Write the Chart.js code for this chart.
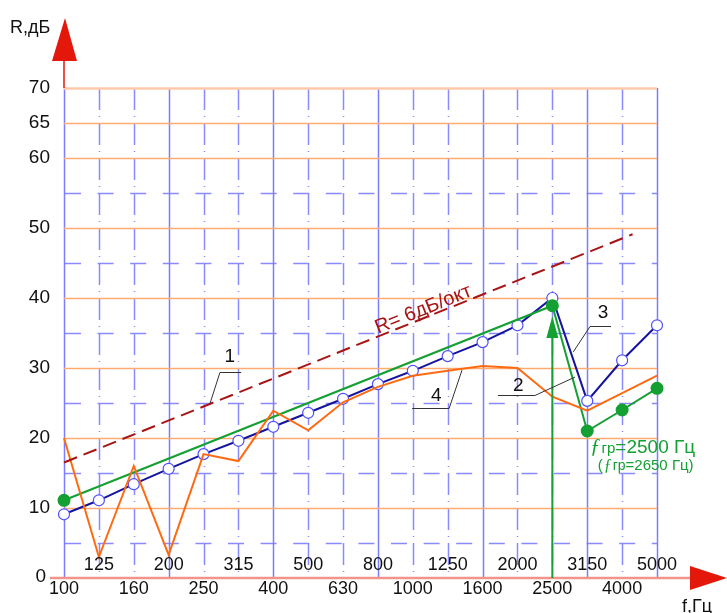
<!DOCTYPE html>
<html>
<head>
<meta charset="utf-8">
<script src="https://cdn.jsdelivr.net/npm/chart.js@4/dist/chart.umd.min.js"></script>
<style>
  html, body { margin: 0; padding: 0; background: #fff; }
</style>
</head>
<body>
<canvas id="chart" width="727" height="613"></canvas>
<script>
// частоты третьоктавных полос, Гц
const freqs = ['100','125','160','200','250','315','400','500','630','800','1000','1250','1600','2000','2500','3150','4000','5000'];
// кривая 3 (синяя, расчёт)
const curve3 = [9.1, 11.1, 13.4, 15.6, 17.7, 19.6, 21.6, 23.6, 25.6, 27.7, 29.6, 31.7, 33.7, 36.1, 40.0, 25.3, 31.1, 36.1];
// кривая 4 (оранжевая, измерение)
const curve4 = [20.0, 3.0, 16.0, 3.3, 17.7, 16.7, 23.9, 21.1, 25.1, 27.3, 28.9, 29.6, 30.3, 30.0, 25.9, 23.9, 26.4, 28.9];
// кривая 2 (зелёная) - только узловые точки
const curve2Freqs = ['100','2500','3150','4000','5000'];
const curve2 = [11.1, 38.9, 21.0, 24.0, 27.1];
// кривая 1 - наклон 6 дБ/окт (пунктир)
const curve1Pos = [0, 16.3];
const curve1 = [16.5, 49.1];
// ось R
const yLabels = [0, 10, 20, 30, 40, 50, 60, 65, 70];
const yMinor = [5, 15, 25, 35, 45, 55];
const octaves = ['100','200','400','800','1600','3150','5000'];
const fgr = '2500'; // граничная частота

const ix = f => freqs.indexOf(f);

const gridPlugin = {
  id: 'grid',
  beforeDatasetsDraw(chart) {
    const { ctx, scales: { x, y } } = chart;
    const x0 = x.getPixelForValue(0), x1 = x.getPixelForValue(freqs.length - 1);
    const y0 = y.getPixelForValue(0), y1 = y.getPixelForValue(70);
    ctx.save();
    // горизонтальные пунктирные
    ctx.strokeStyle = '#8a8aff';
    ctx.lineWidth = 1.5;
    ctx.setLineDash([16, 16.6]);
    ctx.lineDashOffset = -1;
    yMinor.forEach(v => {
      const py = Math.round(y.getPixelForValue(v)) + 0.5;
      ctx.beginPath(); ctx.moveTo(x0, py); ctx.lineTo(x1, py); ctx.stroke();
    });
    // вертикальные
    freqs.forEach((f, i) => {
      const px = Math.round(x.getPixelForValue(i)) + 0.5;
      if (octaves.includes(f)) {
        ctx.setLineDash([]);
        ctx.strokeStyle = '#7c7cff';
      } else {
        ctx.setLineDash([22, 6, 1, 6]);
        ctx.lineDashOffset = 0;
        ctx.strokeStyle = '#8a8aff';
      }
      ctx.beginPath(); ctx.moveTo(px, y1); ctx.lineTo(px, y0); ctx.stroke();
    });
    // горизонтальные сплошные
    ctx.setLineDash([]);
    yLabels.forEach(v => {
      if (v === 0) return;
      const py = Math.round(y.getPixelForValue(v)) + 0.5;
      ctx.strokeStyle = v === 70 ? '#ffc8a8' : '#ffab70';
      ctx.lineWidth = v === 70 ? 2.5 : 1.3;
      ctx.beginPath(); ctx.moveTo(x0, py); ctx.lineTo(x1, py); ctx.stroke();
    });
    ctx.restore();
  }
};

const decorPlugin = {
  id: 'decor',
  afterDraw(chart) {
    const { ctx, scales: { x, y } } = chart;
    const X = v => x.getPixelForValue(v), Y = v => y.getPixelForValue(v);
    const y0 = Y(0), xl = X(0);
    ctx.save();

    // ось f
    ctx.strokeStyle = '#f2948a';
    ctx.lineWidth = 2.5;
    ctx.beginPath(); ctx.moveTo(50, y0); ctx.lineTo(692, y0); ctx.stroke();
    ctx.fillStyle = '#e4180a';
    ctx.beginPath(); ctx.moveTo(690, y0 - 12); ctx.lineTo(727, y0); ctx.lineTo(690, y0 + 12); ctx.closePath(); ctx.fill();
    // ось R
    ctx.strokeStyle = '#e4180a';
    ctx.lineWidth = 1.5;
    ctx.beginPath(); ctx.moveTo(xl, Y(70)); ctx.lineTo(xl, 58); ctx.stroke();
    ctx.beginPath(); ctx.moveTo(xl - 12, 61); ctx.lineTo(xl + 1, 18); ctx.lineTo(xl + 13, 61); ctx.closePath(); ctx.fill();

    // подписи осей
    ctx.fillStyle = '#111';
    ctx.font = '18px "Liberation Sans", Arial, sans-serif';
    ctx.textAlign = 'left'; ctx.textBaseline = 'alphabetic';
    ctx.fillText('R,дБ', 10, 33);
    ctx.fillText('f,Гц', 682, 612);

    // метки R
    ctx.font = '19px "Liberation Sans", Arial, sans-serif';
    ctx.textAlign = 'right'; ctx.textBaseline = 'middle';
    yLabels.forEach(v => {
      ctx.fillText(String(v), v === 0 ? 46 : 50, Y(v) + (v === 0 ? -1 : 0));
    });
    // метки f в два ряда
    ctx.font = '18px "Liberation Sans", Arial, sans-serif';
    ctx.textAlign = 'center';
    freqs.forEach((f, i) => {
      ctx.fillText(f, X(i), i % 2 === 0 ? y0 + 11 : y0 - 13);
    });

    // граничная частота - зелёная стрелка
    const xg = X(ix(fgr));
    ctx.strokeStyle = '#14a032'; ctx.fillStyle = '#14a032';
    ctx.lineWidth = 2;
    ctx.beginPath(); ctx.moveTo(xg, y0); ctx.lineTo(xg, Y(35)); ctx.stroke();
    ctx.beginPath(); ctx.moveTo(xg - 6, Y(34.3)); ctx.lineTo(xg, Y(37.4)); ctx.lineTo(xg + 6, Y(34.3)); ctx.closePath(); ctx.fill();

    // подпись fгр
    ctx.textAlign = 'left'; ctx.textBaseline = 'alphabetic';
    let px = X(15.08), py = Y(17.8);
    ctx.font = 'italic 21px "Liberation Serif", serif';
    ctx.fillText('ƒ', px, py); px += ctx.measureText('ƒ').width + 1;
    ctx.font = '15px "Liberation Sans", Arial, sans-serif';
    ctx.fillText('гр', px, py); px += ctx.measureText('гр').width;
    ctx.font = '19px "Liberation Sans", Arial, sans-serif';
    ctx.fillText('=2500 Гц', px, py);
    px = X(15.3); py = Y(15.4);
    ctx.font = '15px "Liberation Sans", Arial, sans-serif';
    ctx.fillText('(', px, py); px += ctx.measureText('(').width + 1;
    ctx.font = 'italic 16px "Liberation Serif", serif';
    ctx.fillText('ƒ', px, py); px += ctx.measureText('ƒ').width + 1;
    ctx.font = '14px "Liberation Sans", Arial, sans-serif';
    ctx.fillText('гр', px, py); px += ctx.measureText('гр').width;
    ctx.font = '15px "Liberation Sans", Arial, sans-serif';
    ctx.fillText('=2650 Гц)', px, py);

    // надпись наклона
    const ang = Math.atan2(Y(curve1[1]) - Y(curve1[0]), X(curve1Pos[1]) - X(curve1Pos[0]));
    ctx.save();
    ctx.translate(X(9.0), Y(34.9));
    ctx.rotate(ang);
    ctx.fillStyle = '#a81414';
    ctx.font = '20px "Liberation Sans", Arial, sans-serif';
    ctx.fillText('R= 6дБ/окт', 0, 0);
    ctx.restore();

    // выноски с номерами кривых
    const leaders = [
      { n: '1', t: [4.75, 31.6], h: [4.47, 5.08, 29.4], d: [4.19, 25.0] },
      { n: '4', t: [10.67, 26.0], h: [9.98, 11.04, 24.3], d: [11.41, 29.7] },
      { n: '2', t: [13.02, 27.4], h: [12.44, 13.5, 26.1], d: [14.65, 28.7] },
      { n: '3', t: [15.45, 37.9], h: [15.08, 15.68, 36.0], d: [14.6, 32.3] }
    ];
    ctx.strokeStyle = '#333'; ctx.lineWidth = 1;
    ctx.fillStyle = '#111';
    ctx.font = '19px "Liberation Sans", Arial, sans-serif';
    ctx.textAlign = 'center'; ctx.textBaseline = 'middle';
    leaders.forEach(l => {
      const hy = Math.round(Y(l.h[2])) + 0.5;
      const start = l.n === '3' || l.n === '1' ? l.h[0] : l.h[1];
      ctx.beginPath();
      ctx.moveTo(X(l.h[0]), hy); ctx.lineTo(X(l.h[1]), hy);
      ctx.moveTo(X(start), hy); ctx.lineTo(X(l.d[0]), Y(l.d[1]));
      ctx.stroke();
      ctx.fillText(l.n, X(l.t[0]), Y(l.t[1]));
    });
    ctx.restore();
  }
};

new Chart(document.getElementById('chart'), {
  type: 'line',
  data: {
    datasets: [
      {
        label: '1',
        data: curve1.map((v, i) => ({ x: curve1Pos[i], y: v })),
        borderColor: '#a81414',
        borderWidth: 2,
        borderDash: [14, 7],
        pointRadius: 0
      },
      {
        label: '4',
        data: curve4.map((v, i) => ({ x: i, y: v })),
        borderColor: '#ff6a10',
        borderWidth: 2,
        pointRadius: 0
      },
      {
        label: '2',
        data: curve2.map((v, i) => ({ x: ix(curve2Freqs[i]), y: v })),
        borderColor: '#14a032',
        borderWidth: 2,
        pointRadius: 5.5,
        pointBackgroundColor: '#14a032',
        pointBorderColor: '#14a032'
      },
      {
        label: '3',
        data: curve3.map((v, i) => ({ x: i, y: v })),
        borderColor: '#14149e',
        borderWidth: 2,
        pointRadius: 5.5,
        pointBorderWidth: 1.2,
        pointBackgroundColor: '#fff',
        pointBorderColor: '#4f4fff'
      }
    ]
  },
  options: {
    responsive: false,
    animation: false,
    clip: false,
    layout: { padding: { left: 64, right: 70, top: 88, bottom: 35 } },
    plugins: { legend: { display: false }, tooltip: { enabled: false } },
    scales: {
      x: { type: 'linear', min: 0, max: freqs.length - 1, display: false },
      y: { min: 0, max: 70, display: false }
    }
  },
  plugins: [gridPlugin, decorPlugin]
});
</script>
</body>
</html>
